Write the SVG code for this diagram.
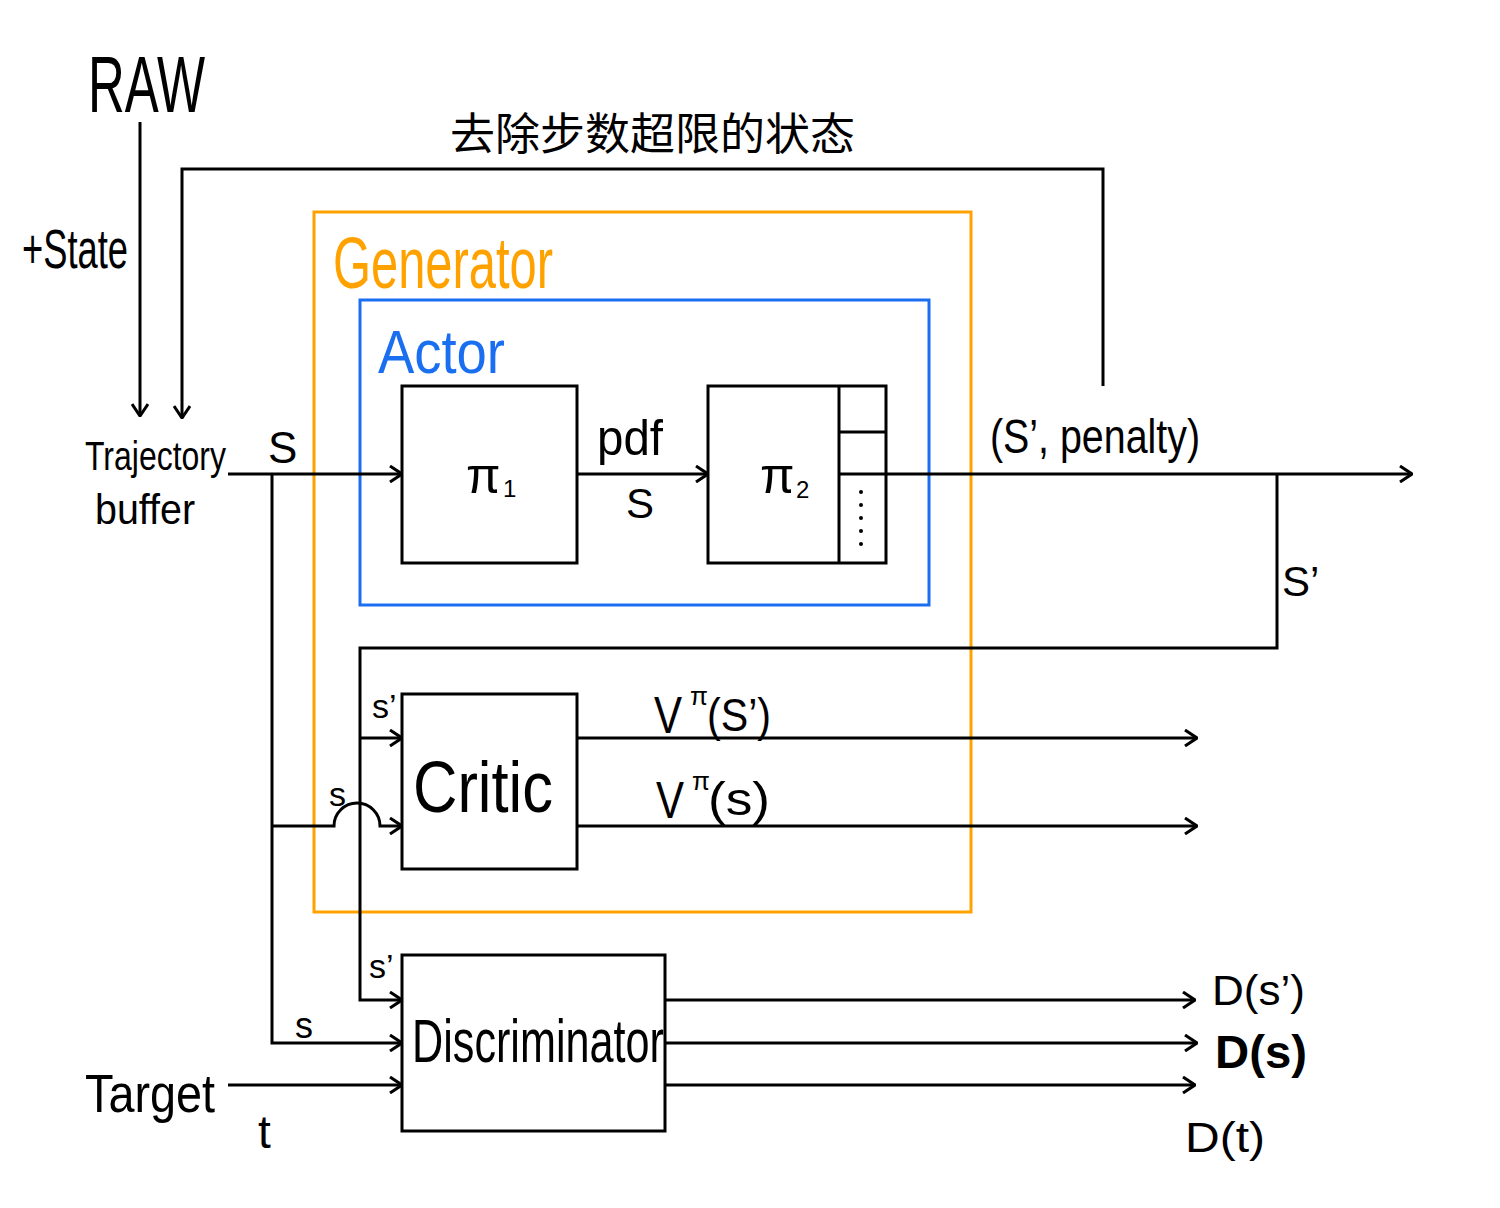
<svg xmlns="http://www.w3.org/2000/svg" width="1500" height="1208" viewBox="0 0 1500 1208">
<defs>
<style>
.ln{fill:none;stroke:#000;stroke-width:3}
.box{fill:none;stroke:#000;stroke-width:3}
.t{font-family:"Liberation Sans","Noto Sans CJK SC",sans-serif;fill:#000}
.cjk{font-family:"Noto Sans CJK SC","Liberation Sans",sans-serif;fill:#000}
</style>
<marker id="ah" viewBox="0 0 14 18" refX="13" refY="9" markerWidth="14" markerHeight="18" markerUnits="userSpaceOnUse" orient="auto">
<path d="M1,1 L13,9 L1,17" fill="none" stroke="#000" stroke-width="3"/>
</marker>
</defs>
<rect width="1500" height="1208" fill="#fff"/>

<g id="labels-top">
<text class="t" x="88" y="112" font-size="80" textLength="117" lengthAdjust="spacingAndGlyphs">RAW</text>
<text class="t" x="22" y="268" font-size="56" textLength="106" lengthAdjust="spacingAndGlyphs">+State</text>
<text class="cjk" x="450" y="150" font-size="44" textLength="405" lengthAdjust="spacingAndGlyphs">去除步数超限的状态</text>
</g>

<g id="generator">
<rect x="314" y="212" width="657" height="700" fill="none" stroke="#FFA200" stroke-width="3"/>
<text class="t" x="333" y="288" font-size="72" style="fill:#FFA200" textLength="220" lengthAdjust="spacingAndGlyphs">Generator</text>
</g>

<g id="actor">
<rect x="360" y="300" width="569" height="305" fill="none" stroke="#1A6FF0" stroke-width="3"/>
<text class="t" x="378" y="373" font-size="62" style="fill:#1A6FF0" textLength="127" lengthAdjust="spacingAndGlyphs">Actor</text>
</g>

<g id="trajectory-buffer">
<text class="t" x="85" y="470" font-size="40" textLength="141" lengthAdjust="spacingAndGlyphs">Trajectory</text>
<text class="t" x="95" y="524" font-size="42" textLength="100" lengthAdjust="spacingAndGlyphs">buffer</text>
</g>

<g id="pi1">
<rect class="box" x="402" y="386" width="175" height="177"/>
<text class="t" x="466" y="493" font-size="50">π</text>
<text class="t" x="503" y="497" font-size="24">1</text>
</g>

<g id="pi2">
<rect class="box" x="708" y="386" width="178" height="177"/>
<line class="ln" x1="839" y1="386" x2="839" y2="563"/>
<line class="ln" x1="839" y1="432" x2="886" y2="432"/>
<line class="ln" x1="839" y1="474" x2="886" y2="474"/>
<g fill="#000">
<circle cx="861" cy="492" r="2"/>
<circle cx="861" cy="505" r="2"/>
<circle cx="861" cy="518" r="2"/>
<circle cx="861" cy="531" r="2"/>
<circle cx="861" cy="544" r="2"/>
</g>
<text class="t" x="760" y="493" font-size="50">π</text>
<text class="t" x="796" y="498" font-size="24">2</text>
</g>

<g id="critic">
<rect class="box" x="402" y="694" width="175" height="175"/>
<text class="t" x="413" y="812" font-size="72" textLength="140" lengthAdjust="spacingAndGlyphs">Critic</text>
</g>

<g id="discriminator">
<rect class="box" x="402" y="955" width="263" height="176"/>
<text class="t" x="412" y="1062" font-size="62" textLength="252" lengthAdjust="spacingAndGlyphs">Discriminator</text>
</g>

<g id="target">
<text class="t" x="85" y="1112" font-size="54" textLength="130" lengthAdjust="spacingAndGlyphs">Target</text>
</g>

<g id="connectors">
<line class="ln" x1="140" y1="122" x2="140" y2="416" marker-end="url(#ah)"/>
<polyline class="ln" points="1103,386 1103,169 182,169 182,418" marker-end="url(#ah)"/>
<line class="ln" x1="228" y1="474" x2="402" y2="474" marker-end="url(#ah)"/>
<line class="ln" x1="577" y1="474" x2="708" y2="474" marker-end="url(#ah)"/>
<line class="ln" x1="886" y1="474" x2="1412" y2="474" marker-end="url(#ah)"/>
<polyline class="ln" points="1277,474 1277,648 360,648 360,1000 402,1000" marker-end="url(#ah)"/>
<line class="ln" x1="360" y1="738" x2="402" y2="738" marker-end="url(#ah)"/>
<polyline class="ln" points="272,474 272,1043 402,1043" marker-end="url(#ah)"/>
<path class="ln" d="M272,826 L334,826 A23,23 0 0 1 380,826 L402,826" marker-end="url(#ah)"/>
<line class="ln" x1="228" y1="1085" x2="402" y2="1085" marker-end="url(#ah)"/>
<line class="ln" x1="577" y1="738" x2="1197" y2="738" marker-end="url(#ah)"/>
<line class="ln" x1="577" y1="826" x2="1197" y2="826" marker-end="url(#ah)"/>
<line class="ln" x1="665" y1="1000" x2="1195" y2="1000" marker-end="url(#ah)"/>
<line class="ln" x1="665" y1="1043" x2="1197" y2="1043" marker-end="url(#ah)"/>
<line class="ln" x1="665" y1="1085" x2="1195" y2="1085" marker-end="url(#ah)"/>
</g>

<g id="connector-labels">
<text class="t" x="268" y="463" font-size="44">S</text>
<text class="t" x="597" y="455" font-size="50" textLength="66" lengthAdjust="spacingAndGlyphs">pdf</text>
<text class="t" x="626" y="518" font-size="42">S</text>
<text class="t" x="990" y="453" font-size="48" textLength="210" lengthAdjust="spacingAndGlyphs">(S’, penalty)</text>
<text class="t" x="1282" y="596" font-size="42">S’</text>
<text class="t" x="372" y="718" font-size="34">s’</text>
<text class="t" x="329" y="806" font-size="34">s</text>
<text class="t" x="654" y="733" font-size="52" textLength="28" lengthAdjust="spacingAndGlyphs">V</text>
<text class="t" x="690" y="705" font-size="26">π</text>
<text class="t" x="707" y="731" font-size="46" textLength="64" lengthAdjust="spacingAndGlyphs">(S’)</text>
<text class="t" x="656" y="818" font-size="52" textLength="28" lengthAdjust="spacingAndGlyphs">V</text>
<text class="t" x="692" y="790" font-size="26">π</text>
<text class="t" x="708" y="815" font-size="46" textLength="62" lengthAdjust="spacingAndGlyphs">(s)</text>
<text class="t" x="369" y="978" font-size="34">s’</text>
<text class="t" x="295" y="1038" font-size="36">s</text>
<text class="t" x="258" y="1148" font-size="46">t</text>
<text class="t" x="1212" y="1005" font-size="42" textLength="93" lengthAdjust="spacingAndGlyphs">D(s’)</text>
<text class="t" x="1215" y="1068" font-size="46" font-weight="bold" textLength="92" lengthAdjust="spacingAndGlyphs">D(s)</text>
<text class="t" x="1185" y="1152" font-size="42" textLength="80" lengthAdjust="spacingAndGlyphs">D(t)</text>
</g>
</svg>
